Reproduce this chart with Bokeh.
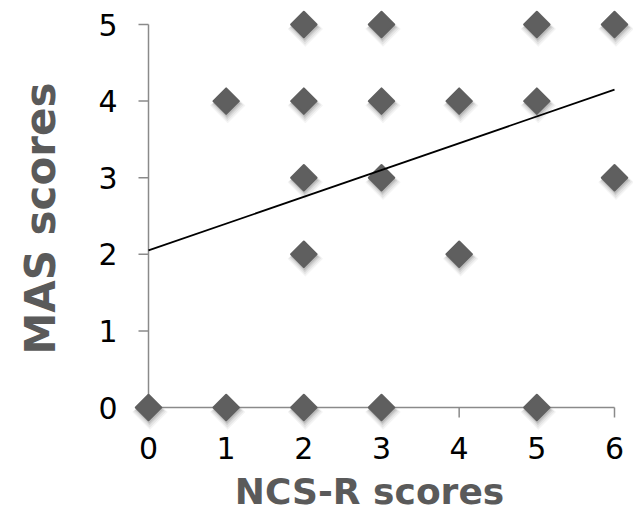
import math
from bokeh.plotting import figure
from bokeh.models import Range1d, Label
from bokeh.core.properties import value
from bokeh.embed import file_html
from bokeh.resources import INLINE

# ---- data ----
ncs_r = [2, 3, 5, 6, 1, 2, 3, 4, 5, 2, 3, 6, 2, 4, 0, 1, 2, 3, 5]
mas = [5, 5, 5, 5, 4, 4, 4, 4, 4, 3, 3, 3, 2, 2, 0, 0, 0, 0, 0]
x_ticks = [0, 1, 2, 3, 4, 5, 6]
y_ticks = [0, 1, 2, 3, 4, 5]
x_tick_labels = ["0", "1", "2", "3", "4", "5", "6"]
y_tick_labels = ["0", "1", "2", "3", "4", "5"]
trend_intercept = 2.05
trend_slope = 0.35
x_label = "NCS-R scores"
y_label = "MAS scores"

# ---- layout (pixels on the 633x515 canvas) ----
W, H = 633, 515
X0_PX, X6_PX = 148, 614      # pixel of x = 0 and x = 6
Y0_PX, Y5_PX = 407, 24       # pixel of y = 0 and y = 5
ux = (X6_PX - X0_PX) / (x_ticks[-1] - x_ticks[0])
uy = (Y0_PX - Y5_PX) / (y_ticks[-1] - y_ticks[0])


def dx(px):
    return (px - X0_PX) / ux


def dy(py):
    return (Y0_PX - py) / uy


p = figure(width=W, height=H, output_backend="svg", toolbar_location=None,
           x_range=Range1d(dx(0), dx(W)), y_range=Range1d(dy(H), dy(0)),
           x_axis_location=None, y_axis_location=None,
           min_border=0, min_border_left=0, min_border_right=0,
           min_border_top=0, min_border_bottom=0)
p.outline_line_color = None
p.grid.visible = False
p.background_fill_color = "white"
p.border_fill_color = "white"

axis_grey = "#8a8a8a"
title_grey = "#5a5a5a"
font = "DejaVu Sans"

# axis lines and ticks
p.line(x=[x_ticks[0], x_ticks[-1]], y=[0, 0], line_color=axis_grey, line_width=1.5)
p.line(x=[0, 0], y=[y_ticks[0], y_ticks[-1]], line_color=axis_grey, line_width=1.5)
p.ray(x=x_ticks, y=[0] * len(x_ticks), length=10, length_units="screen",
      angle=-math.pi / 2, line_color=axis_grey, line_width=1.5)
p.ray(x=[0] * len(y_ticks), y=y_ticks, length=10, length_units="screen",
      angle=math.pi, line_color=axis_grey, line_width=1.5)

# tick labels
p.text(x=x_ticks, y=[dy(Y0_PX + 29)] * len(x_ticks), text=x_tick_labels,
       text_align="center", text_baseline="top", text_font=value(font),
       text_font_size="30px", text_color="black")
p.text(x=[dx(X0_PX - 31)] * len(y_ticks), y=y_ticks, text=y_tick_labels,
       text_align="right", text_baseline="middle", text_font=value(font),
       text_font_size="30px", text_color="black")

# axis titles
p.add_layout(Label(x=dx(369), y=dy(491), text=x_label,
                   text_align="center", text_baseline="middle",
                   text_font=font, text_font_style="bold",
                   text_font_size="36px", text_color=title_grey))
p.add_layout(Label(x=dx(40), y=dy(218), text=y_label, angle=math.pi / 2,
                   text_align="center", text_baseline="middle",
                   text_font=font, text_font_style="bold",
                   text_font_size="42px", text_color=title_grey))

# soft shadows
for ox, oy, extra, alpha in [(1.5, 4.5, 7, 0.05), (1.2, 4.0, 5, 0.07), (1.0, 3.0, 3, 0.10), (0.8, 2.5, 1, 0.14)]:
    p.scatter(x=[v + ox / ux for v in ncs_r], y=[v - oy / uy for v in mas],
              marker="square", size=18 + extra, angle=math.pi / 4,
              fill_color="#303030", fill_alpha=alpha, line_color=None)

# points
p.scatter(x=ncs_r, y=mas, marker="square", size=18, angle=math.pi / 4,
          fill_color="#5f5f5f", line_color="#5f5f5f", line_width=2, line_join="round")

# linear trend line
tx = [x_ticks[0], x_ticks[-1]]
p.line(x=tx, y=[trend_intercept + trend_slope * v for v in tx], line_color="black", line_width=1.8)

open("out.html", "w").write(file_html(p, INLINE))
